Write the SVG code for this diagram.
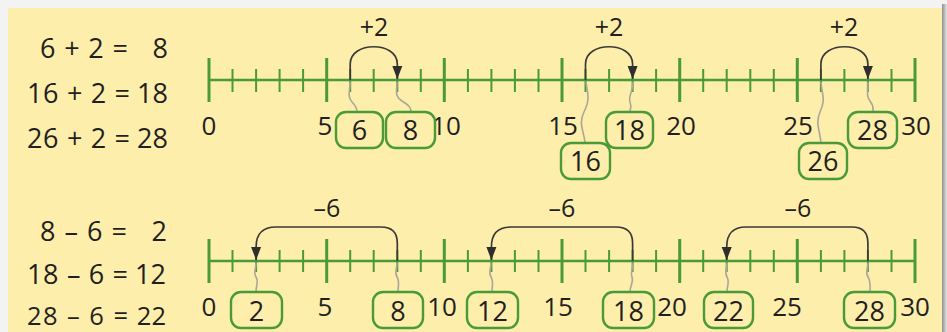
<svg xmlns="http://www.w3.org/2000/svg" width="947" height="332" viewBox="0 0 947 332">
<defs>
<linearGradient id="shR" x1="0" y1="0" x2="1" y2="0">
<stop offset="0" stop-color="#8f8f8f"/><stop offset="1" stop-color="#e6e6e6"/>
</linearGradient>
<marker id="ah" markerUnits="userSpaceOnUse" markerWidth="13" markerHeight="14" refX="13" refY="5" orient="auto" viewBox="0 0 13 10">
<path d="M0,0 L13,5 L0,10 z" fill="#2e2e2c"/>
</marker>
<style>
.t{font-family:"Open Sans","Liberation Sans",sans-serif;fill:#231f20;}
.eq{font-size:27px;}
.eqs{font-size:25.5px;}
.lab{font-size:26px;text-anchor:middle;}
.jl{font-size:25px;text-anchor:middle;}
.bx{fill:#fdeeab;stroke:#4a9a3a;stroke-width:2.4;}
.bt{font-size:27px;text-anchor:middle;}
.nl{stroke:#4a9a3a;fill:none;}
.arc{fill:none;stroke:#3a3a38;stroke-width:1.7;}
.wg{fill:none;stroke:#a9a79a;stroke-width:1.6;}
</style>
</defs>
<rect x="0" y="0" width="947" height="332" fill="#f3f3f3"/>
<rect x="942" y="4" width="5" height="328" fill="url(#shR)"/>
<rect x="8" y="8" width="934" height="330" fill="#fdeeab"/>

<!-- equations -->
<g id="equations">
<text class="t eq" x="40" y="58" textLength="88" lengthAdjust="spacing">6 + 2 =</text>
<text class="t eq" x="168" y="58" text-anchor="end">8</text>
<text class="t eq" x="27" y="103" textLength="103" lengthAdjust="spacing">16 + 2 =</text>
<text class="t eq" x="168" y="103" text-anchor="end">18</text>
<text class="t eq" x="27" y="148" textLength="103" lengthAdjust="spacing">26 + 2 =</text>
<text class="t eq" x="168" y="148" text-anchor="end">28</text>
<text class="t eq" x="40" y="241" textLength="87" lengthAdjust="spacing">8 – 6 =</text>
<text class="t eq" x="167" y="241" text-anchor="end">2</text>
<text class="t eq" x="27" y="284" textLength="101" lengthAdjust="spacing">18 – 6 =</text>
<text class="t eq" x="166" y="284" text-anchor="end">12</text>
<text class="t eqs" x="27" y="325" textLength="101" lengthAdjust="spacing">28 – 6 =</text>
<text class="t eqs" x="166" y="325" text-anchor="end">22</text>
</g>

<!-- top number line -->
<g id="numberline-top">
<path class="nl" stroke-width="2.6" d="M209,80 H915"/>
<path class="nl" stroke-width="2" d="M232.5,69V92 M256.1,69V92 M279.6,69V92 M303.1,69V92 M350.2,69V92 M373.7,69V92 M397.3,69V92 M420.8,69V92 M467.9,69V92 M491.4,69V92 M514.9,69V92 M538.5,69V92 M585.5,69V92 M609.1,69V92 M632.6,69V92 M656.1,69V92 M703.2,69V92 M726.7,69V92 M750.3,69V92 M773.8,69V92 M820.9,69V92 M844.4,69V92 M867.9,69V92 M891.5,69V92"/>
<path class="nl" stroke-width="3" d="M209,58V102 M326.7,58V102 M444.3,58V102 M562,58V102 M679.7,58V102 M797.3,58V102 M915,58V102"/>
<text class="t lab" x="209" y="135">0</text>
<text class="t lab" x="325" y="135">5</text>
<text class="t lab" x="446" y="135">10</text>
<text class="t lab" x="563" y="135">15</text>
<text class="t lab" x="681" y="135">20</text>
<text class="t lab" x="798" y="135">25</text>
<text class="t lab" x="916" y="135">30</text>
</g>

<!-- bottom number line -->
<g id="numberline-bottom">
<path class="nl" stroke-width="2.6" d="M209,261 H915"/>
<path class="nl" stroke-width="2" d="M232.5,250V272 M256.1,250V272 M279.6,250V272 M303.1,250V272 M350.2,250V272 M373.7,250V272 M397.3,250V272 M420.8,250V272 M467.9,250V272 M491.4,250V272 M514.9,250V272 M538.5,250V272 M585.5,250V272 M609.1,250V272 M632.6,250V272 M656.1,250V272 M703.2,250V272 M726.7,250V272 M750.3,250V272 M773.8,250V272 M820.9,250V272 M844.4,250V272 M867.9,250V272 M891.5,250V272"/>
<path class="nl" stroke-width="3" d="M209,239V283 M326.7,239V283 M444.3,239V283 M562,239V283 M679.7,239V283 M797.3,239V283 M915,239V283"/>
<text class="t lab" x="209" y="316">0</text>
<text class="t lab" x="325" y="316">5</text>
<text class="t lab" x="442" y="316">10</text>
<text class="t lab" x="558" y="316">15</text>
<text class="t lab" x="672" y="316">20</text>
<text class="t lab" x="787" y="316">25</text>
<text class="t lab" x="915" y="316">30</text>
</g>

<!-- connectors -->
<g id="connectors">
<path class="arc" marker-end="url(#ah)" d="M350.2,80 V64 C350.2,41 397.3,41 397.3,64 V79"/>
<path class="arc" marker-end="url(#ah)" d="M585.5,80 V64 C585.5,41 632.6,41 632.6,64 V79"/>
<path class="arc" marker-end="url(#ah)" d="M820.9,80 V64 C820.9,41 867.9,41 867.9,64 V79"/>
<path class="arc" marker-end="url(#ah)" d="M397.3,261 V243 Q397.3,227 381,227 H276 Q256.1,227 256.1,247 V260"/>
<path class="arc" marker-end="url(#ah)" d="M632.6,261 V243 Q632.6,227 616,227 H511 Q491.4,227 491.4,247 V260"/>
<path class="arc" marker-end="url(#ah)" d="M867.9,261 V243 Q867.9,227 852,227 H746 Q726.7,227 726.7,247 V260"/>

<path class="wg" d="M350,82 C350,92 347,96 352,102 C356,106 357,108 357,112"/>
<path class="wg" d="M397,82 C397,92 394,96 402,101 C410,106 411,108 411,112"/>
<path class="wg" d="M586,82 C588,95 590,100 584,112 C578,124 584,130 585,143"/>
<path class="wg" d="M633,82 C633,92 628,96 630,102 C632,107 630,109 630,112"/>
<path class="wg" d="M821,82 C822,95 826,100 820,112 C815,124 820,130 821,143"/>
<path class="wg" d="M868,82 C868,92 866,96 870,101 C874,106 873,108 873,112"/>

<path class="wg" d="M256,263 C256,270 253,272 256,277 C259,282 256,285 256,292"/>
<path class="wg" d="M397,263 C397,270 394,272 397,277 C400,282 398,285 398,292"/>
<path class="wg" d="M491,263 C491,270 488,272 491,277 C494,282 492,285 492,292"/>
<path class="wg" d="M633,263 C633,270 630,272 632,277 C634,282 630,285 630,292"/>
<path class="wg" d="M727,263 C727,270 724,272 727,277 C730,282 727,285 727,292"/>
<path class="wg" d="M868,263 C868,270 865,272 868,277 C871,282 870,285 870,292"/>
</g>

<!-- jump labels -->
<g id="jump-labels">
<text class="t jl" x="374" y="36">+2</text>
<text class="t jl" x="609" y="36">+2</text>
<text class="t jl" x="844" y="36">+2</text>
<text class="t jl" x="327" y="217">–6</text>
<text class="t jl" x="562" y="217">–6</text>
<text class="t jl" x="798" y="217">–6</text>
</g>

<!-- boxes top -->
<g id="box-6"><rect class="bx" x="336" y="112" width="47" height="36" rx="10"/><text class="t bt" x="359.5" y="140">6</text></g>
<g id="box-8"><rect class="bx" x="386" y="112" width="49" height="36" rx="10"/><text class="t bt" x="410.5" y="140">8</text></g>
<g id="box-16"><rect class="bx" x="561" y="143" width="49" height="36" rx="10"/><text class="t bt" x="585.5" y="171">16</text></g>
<g id="box-18-top"><rect class="bx" x="606" y="112" width="47" height="36" rx="10"/><text class="t bt" x="629.5" y="140">18</text></g>
<g id="box-26"><rect class="bx" x="799" y="143" width="48" height="36" rx="10"/><text class="t bt" x="823" y="171">26</text></g>
<g id="box-28-top"><rect class="bx" x="848" y="112" width="49" height="36" rx="10"/><text class="t bt" x="872.5" y="140">28</text></g>

<!-- boxes bottom -->
<g id="box-2"><rect class="bx" x="231" y="292" width="51" height="36" rx="10"/><text class="t bt" x="256.5" y="321">2</text></g>
<g id="box-8-bottom"><rect class="bx" x="373" y="292" width="50" height="36" rx="10"/><text class="t bt" x="398" y="321">8</text></g>
<g id="box-12"><rect class="bx" x="467" y="292" width="51" height="36" rx="10"/><text class="t bt" x="492.5" y="321">12</text></g>
<g id="box-18-bottom"><rect class="bx" x="603" y="292" width="51" height="36" rx="10"/><text class="t bt" x="628.5" y="321">18</text></g>
<g id="box-22"><rect class="bx" x="704" y="292" width="49" height="36" rx="10"/><text class="t bt" x="728.5" y="321">22</text></g>
<g id="box-28-bottom"><rect class="bx" x="844" y="292" width="51" height="36" rx="10"/><text class="t bt" x="869.5" y="321">28</text></g>
</svg>
